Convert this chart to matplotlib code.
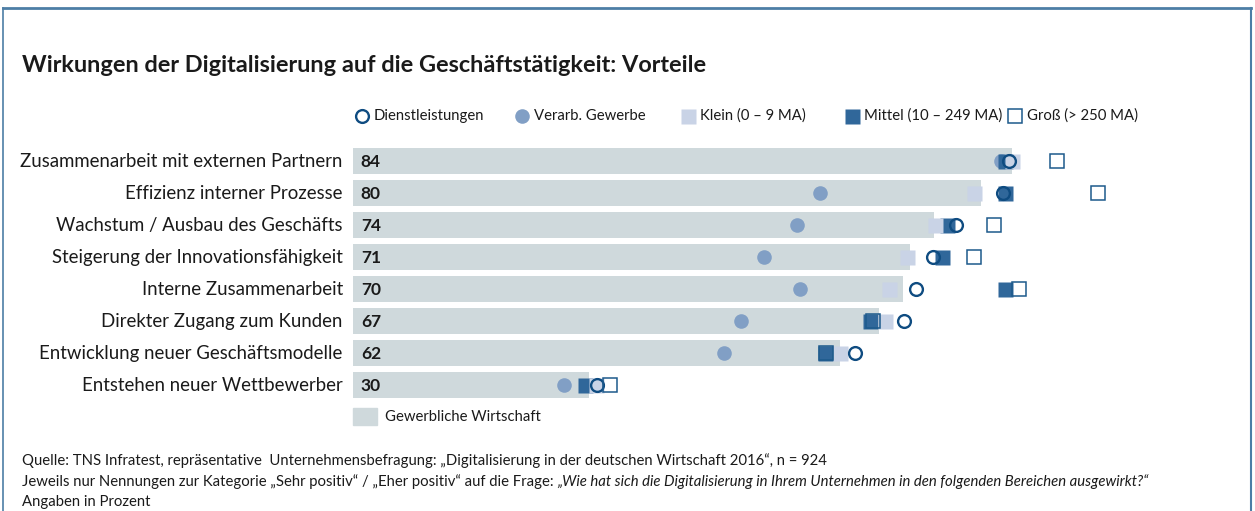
import matplotlib
matplotlib.use('Agg')
import matplotlib.pyplot as plt
from matplotlib.lines import Line2D
from matplotlib.patches import Rectangle

plt.rcParams['font.family'] = ['Lato', 'DejaVu Sans']

# ---- data ----
categories = [
    'Zusammenarbeit mit externen Partnern',
    'Effizienz interner Prozesse',
    'Wachstum / Ausbau des Geschäfts',
    'Steigerung der Innovationsfähigkeit',
    'Interne Zusammenarbeit',
    'Direkter Zugang zum Kunden',
    'Entwicklung neuer Geschäftsmodelle',
    'Entstehen neuer Wettbewerber',
]
gewerbliche = [84, 80, 74, 71, 70, 67, 62, 30]
dienstleistungen = [83.6, 82.8, 76.8, 73.9, 71.7, 70.2, 64.0, 31.1]
verarb_gewerbe = [82.6, 59.5, 56.5, 52.3, 56.9, 49.4, 47.2, 26.9]
klein = [84.0, 79.1, 74.1, 70.6, 68.3, 67.8, 62.0, 31.0]
mittel = [83.0, 83.0, 75.7, 75.0, 83.0, 65.9, 60.1, 29.6]
gross = [89.7, 94.9, 81.7, 79.1, 84.8, 66.2, 60.3, 32.7]

# ---- colours ----
C_BAR = '#cfd9dc'
C_DIENST = '#0f4c81'
C_VERARB = '#819fc5'
C_KLEIN = '#c9d3e6'
C_MITTEL = '#30679a'
C_GROSS = '#1d5a8c'
C_TEXT = '#1a1a1a'
C_FRAME = '#4d7ea6'

W, H = 1255, 511
fig = plt.figure(figsize=(W / 100, H / 100), dpi=100)
fig.patch.set_facecolor('white')

# axes placed in pixel units: bars start at x=353, 7.85 px per percent
ax = fig.add_axes([353 / W, (H - 401) / H, 785 / W, 256 / H])
ax.set_xlim(0, 100)
ax.set_ylim(len(categories) - 0.5, -0.5)
ax.axis('off')

ypos = list(range(len(categories)))
ax.barh(ypos, gewerbliche, height=0.81, color=C_BAR, zorder=1)

for y, v in zip(ypos, gewerbliche):
    ax.text(1.0, y + 0.03, str(v), ha='left', va='center', fontsize=12.5,
            fontweight='bold', color=C_TEXT, zorder=6)

for y, lab in zip(ypos, categories):
    ax.text(-1.3, y + 0.03, lab, ha='right', va='center', fontsize=13.4,
            color=C_TEXT, clip_on=False)

ax.plot(verarb_gewerbe, ypos, ls='none', marker='o', ms=10.5,
        mfc=C_VERARB, mec='none', zorder=2)
ax.plot(mittel, ypos, ls='none', marker='s', ms=10.8,
        mfc=C_MITTEL, mec='none', zorder=3)
ax.plot(klein, ypos, ls='none', marker='s', ms=10.8,
        mfc=C_KLEIN, mec='none', zorder=4)
ax.plot(dienstleistungen, ypos, ls='none', marker='o', ms=9.2,
        mfc='none', mec=C_DIENST, mew=1.7, zorder=5)
ax.plot(gross, ypos, ls='none', marker='s', ms=9.8,
        mfc='none', mec=C_GROSS, mew=1.1, zorder=5)

# ---- legend (top) ----
handles = [
    Line2D([], [], ls='none', marker='o', ms=9.2, mfc='none', mec=C_DIENST, mew=1.7),
    Line2D([], [], ls='none', marker='o', ms=10.5, mfc=C_VERARB, mec='none'),
    Line2D([], [], ls='none', marker='s', ms=10.8, mfc=C_KLEIN, mec='none'),
    Line2D([], [], ls='none', marker='s', ms=10.8, mfc=C_MITTEL, mec='none'),
    Line2D([], [], ls='none', marker='s', ms=9.8, mfc='none', mec=C_GROSS, mew=1.1),
]
leg_labels = ['Dienstleistungen', 'Verarb. Gewerbe', 'Klein (0 – 9 MA)',
              'Mittel (10 – 249 MA)', 'Groß (> 250 MA)']
leg_x = [362, 522, 688, 852, 1015]
for h, lab, x in zip(handles, leg_labels, leg_x):
    fig.add_artist(Line2D([x / W], [1 - 116 / H], ls='none', marker=h.get_marker(),
                          ms=h.get_markersize(), mfc=h.get_markerfacecolor(),
                          mec=h.get_markeredgecolor(), mew=h.get_markeredgewidth()))
    fig.text((x + 12) / W, 1 - 116 / H, lab, ha='left', va='center',
             fontsize=10.7, color=C_TEXT)

# legend for bars (bottom)
fig.add_artist(Rectangle((353 / W, 1 - 425 / H), 24 / W, 17 / H,
                         transform=fig.transFigure, color=C_BAR))
fig.text(385 / W, 1 - 417 / H, 'Gewerbliche Wirtschaft', ha='left',
         va='center', fontsize=10.7, color=C_TEXT)

# ---- title ----
fig.text(22 / W, 1 - 65 / H,
         'Wirkungen der Digitalisierung auf die Geschäftstätigkeit: Vorteile',
         ha='left', va='center', fontsize=16.9, fontweight='bold', color=C_TEXT)

# ---- footer ----
fs = 10.7
fig.text(22 / W, 1 - 461 / H,
         'Quelle: TNS Infratest, repräsentative  Unternehmensbefragung: '
         '„Digitalisierung in der deutschen Wirtschaft 2016“, n = 924',
         ha='left', va='center', fontsize=fs, color=C_TEXT)
t1 = fig.text(22 / W, 1 - 482 / H,
              'Jeweils nur Nennungen zur Kategorie „Sehr positiv“ / „Eher positiv“ '
              'auf die Frage: ',
              ha='left', va='center', fontsize=fs, color=C_TEXT)
ax.annotate('„Wie hat sich die Digitalisierung in Ihrem Unternehmen in den '
            'folgenden Bereichen ausgewirkt?“',
            xy=(1, 0.5), xycoords=t1, ha='left', va='center', fontsize=fs,
            style='italic', color=C_TEXT, annotation_clip=False)
fig.text(22 / W, 1 - 502 / H, 'Angaben in Prozent', ha='left', va='center',
         fontsize=fs, color=C_TEXT)

# ---- frame ----
fig.add_artist(Line2D([3 / W, 1251 / W], [1 - 8 / H, 1 - 8 / H], color=C_FRAME, lw=2))
fig.add_artist(Line2D([3 / W, 3 / W], [1 - 8 / H, 0], color=C_FRAME, lw=1.2))
fig.add_artist(Line2D([1251 / W, 1251 / W], [1 - 8 / H, 0], color=C_FRAME, lw=1.5))

fig.savefig('out.png', dpi=100, facecolor='white')
